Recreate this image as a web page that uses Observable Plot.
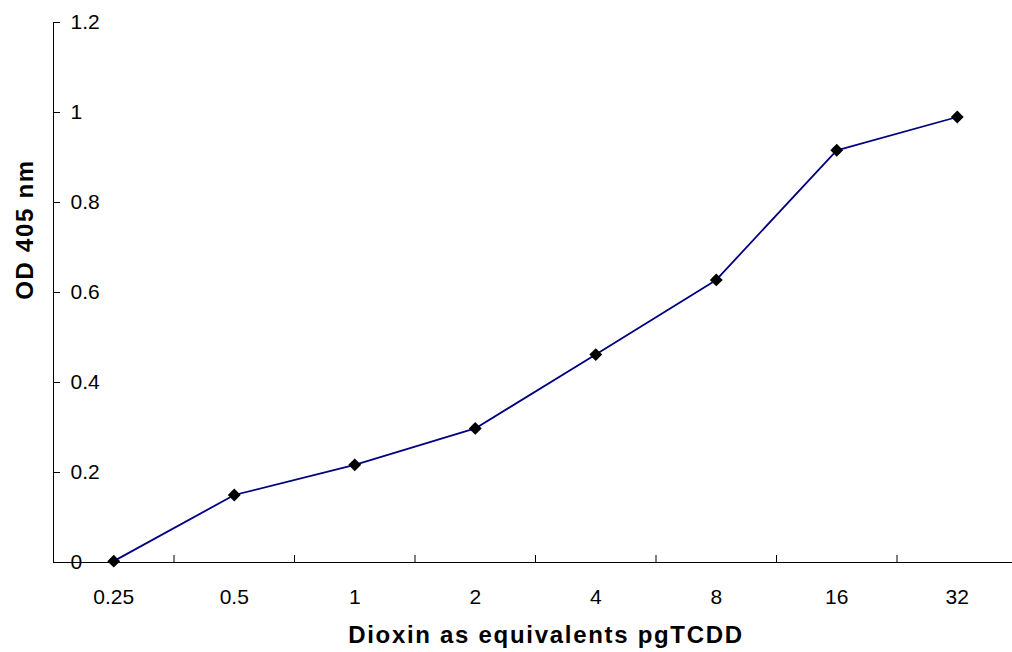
<!DOCTYPE html>
<html><head><meta charset="utf-8">
<script src="https://cdn.jsdelivr.net/npm/d3@7"></script>
<script src="https://cdn.jsdelivr.net/npm/@observablehq/plot@0.6"></script>
<style>
html,body{margin:0;padding:0;background:#fff;}
#chart svg{display:block;}
</style></head><body><div id="chart"></div>
<script>
const doses = [0.25, 0.5, 1, 2, 4, 8, 16, 32];
const doseLabels = ["0.25", "0.5", "1", "2", "4", "8", "16", "32"];
const od405 = [0.003, 0.150, 0.217, 0.298, 0.462, 0.628, 0.916, 0.990];
const yTicks = [0, 0.2, 0.4, 0.6, 0.8, 1, 1.2];
const yTickLabels = ["0", "0.2", "0.4", "0.6", "0.8", "1", "1.2"];
const xTitle = "Dioxin as equivalents pgTCDD";
const yTitle = "OD 405 nm";

const data = doses.map((d, i) => ({dose: d, label: doseLabels[i], od: od405[i]}));
// categories double each step: half a category on a log2 axis is a factor sqrt(2)
const xMin = doses[0] / Math.SQRT2;
const xMax = doses[doses.length - 1] * Math.SQRT2;
const boundaries = doses.slice(0, -1).map((d, i) => Math.sqrt(d * doses[i + 1]));
const font = "'Liberation Sans', Arial, sans-serif";

const chart = Plot.plot({
  width: 1012, height: 652,
  marginLeft: 53, marginRight: 0, marginTop: 22, marginBottom: 90,
  style: {background: "#fff", fontFamily: font, overflow: "hidden"},
  x: {type: "log", base: 2, domain: [xMin, xMax], range: [53, 1017], axis: null},
  y: {domain: [0, 1.2], range: [562, 22], axis: null},
  marks: [
    Plot.ruleX([xMin], {y1: 0, y2: 1.2, stroke: "#000", strokeWidth: 1}),
    Plot.ruleY([0], {x1: xMin, x2: xMax, stroke: "#000", strokeWidth: 1}),
    Plot.ruleY(yTicks, {y: d => d, x1: xMin, x2: xMin, insetRight: -7, stroke: "#000"}),
    Plot.ruleX(boundaries, {x: d => d, y1: 0, y2: 0, insetTop: -7, stroke: "#000"}),
    Plot.text(yTicks, {x: xMin, y: d => d, text: (d, i) => yTickLabels[i], textAnchor: "start", lineAnchor: "middle", dx: 17, fontSize: 21, fill: "#000"}),
    Plot.text(data, {x: "dose", y: 0, text: "label", textAnchor: "middle", lineAnchor: "middle", dy: 34.3, fontSize: 21, fill: "#000"}),
    Plot.line(data, {x: "dose", y: "od", stroke: "#000080", strokeWidth: 1.8}),
    Plot.dot(data, {x: "dose", y: "od", symbol: "diamond2", r: 5.8, fill: "#000", stroke: null}),
    Plot.text([xTitle], {frameAnchor: "bottom", textAnchor: "middle", lineAnchor: "middle", dx: 13, dy: 73.3, fontSize: 24, fontWeight: "bold", fill: "#000"}),
    Plot.text([yTitle], {frameAnchor: "left", textAnchor: "middle", lineAnchor: "middle", rotate: -90, dx: -28.2, dy: -63, fontSize: 24, fontWeight: "bold", fill: "#000"})
  ]
});
d3.select(chart).selectAll("text")
  .filter(function () { return this.textContent === xTitle || this.textContent === yTitle; })
  .attr("letter-spacing", "1.7px");
document.getElementById("chart").appendChild(chart);
</script>
</body></html>
